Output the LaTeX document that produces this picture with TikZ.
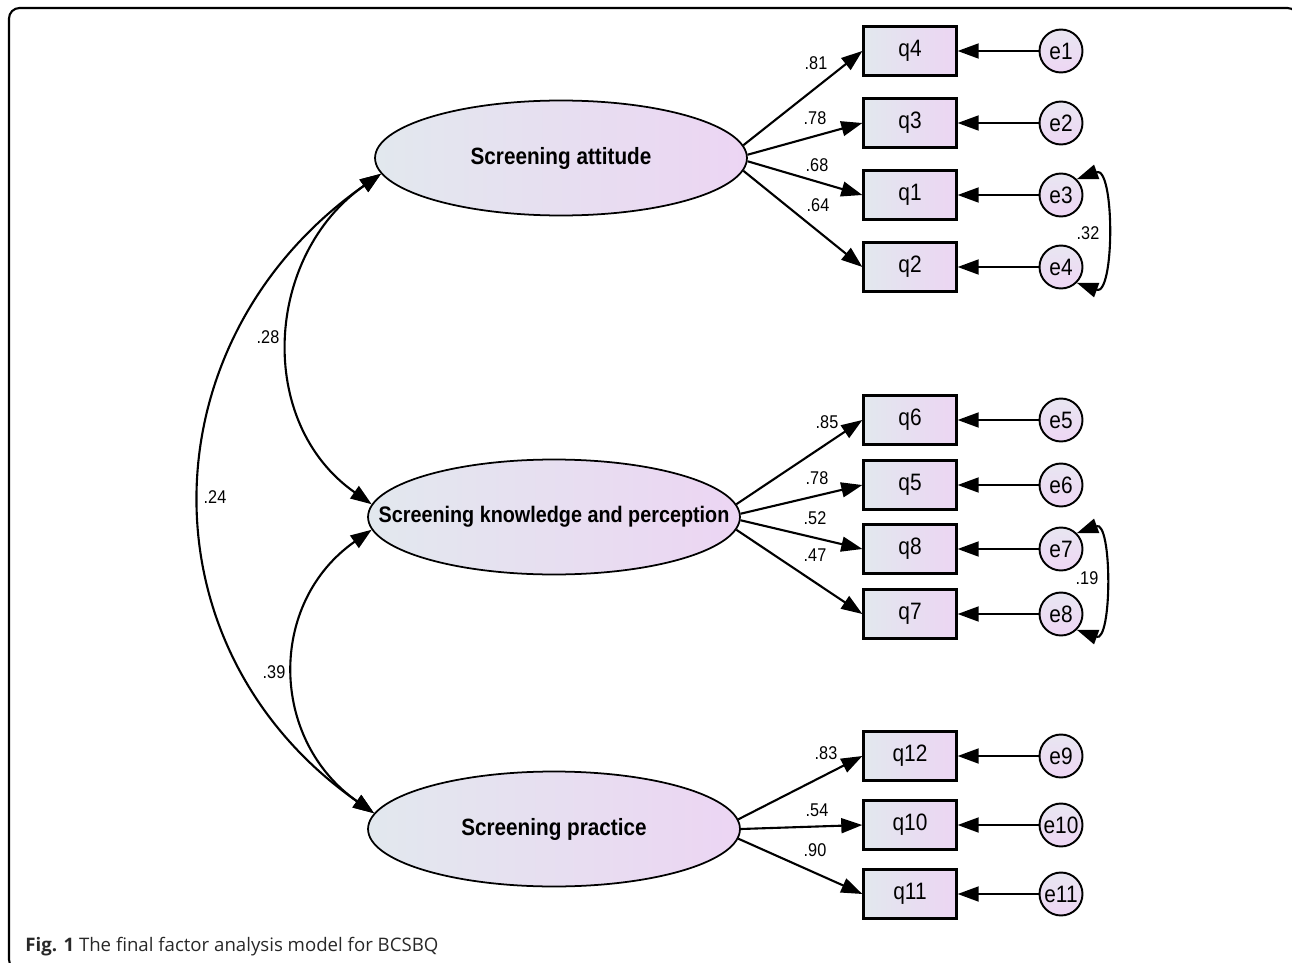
\documentclass[tikz,border=0pt]{standalone}
\usepackage{fontspec}
\setmainfont{Liberation Sans}
\newfontfamily\amosfont[FakeStretch=0.88]{Liberation Sans}
\newfontfamily\capfont{Open Sans}
\usepackage{xcolor}
\usetikzlibrary{positioning, arrows.meta, shapes.geometric}
\definecolor{shadeleft}{RGB}{226,232,238}
\definecolor{shaderight}{RGB}{236,213,243}
\definecolor{errtop}{RGB}{232,230,241}
\definecolor{errbottom}{RGB}{238,214,244}
\definecolor{captext}{RGB}{40,40,40}
\newcommand{\latent}[1]{\makebox[0pt]{#1}}

\begin{document}
\begin{tikzpicture}[x=0.02cm, y=0.02cm,
    >={Triangle[length=12pt,width=8.5pt]},
    factor/.style={ellipse, draw, line width=1pt, inner sep=0pt, minimum width=7.44cm, minimum height=2.3cm,
        left color=shadeleft, right color=shaderight, font=\amosfont\bfseries\fontsize{13.4}{15}\selectfont},
    item/.style={rectangle, draw, line width=1.3pt, minimum width=1.86cm, minimum height=0.98cm,
        left color=shadeleft, right color=shaderight, font=\amosfont\fontsize{13.5}{15}\selectfont},
    err/.style={circle, draw, line width=1.1pt, minimum size=0.86cm, inner sep=0pt,
        top color=errtop, bottom color=errbottom, font=\amosfont\fontsize{13.5}{15}\selectfont},
    load/.style={->, line width=1.2pt},
    cov/.style={<->, line width=1.2pt},
    coef/.style={inner sep=0pt, font=\amosfont\fontsize{10.5}{12}\selectfont}]
    \useasboundingbox (0,0) rectangle (1292,-963);
    \clip (0,0) rectangle (1292,-963);

    % Frame round the figure
    \draw[line width=1.2pt, rounded corners=6pt] (9,-8) rectangle (1298,-970);

    % Latent factors
    \node[factor] (att) at (561,-158) {\latent{Screening attitude}};
    \node[factor] (know) at (554,-517) {\latent{\fontsize{12.8}{15}\selectfont Screening knowledge and perception}};
    \node[factor] (prac) at (554,-829) {\latent{Screening practice}};

    % Items with their error terms
    \foreach \q/\e/\y in {q4/e1/51, q3/e2/123, q1/e3/195, q2/e4/267,
                          q6/e5/420, q5/e6/485, q8/e7/549, q7/e8/614,
                          q12/e9/756, q10/e10/825, q11/e11/894}{
        \node[item] (\q) at (910,-\y) {\q};
        \node[err] (\e) at (1061,-\y) {\e};
        \draw[load] (\e) -- (\q);
    }

    % Factor loadings
    \foreach \f/\ang/\q/\v/\lx/\ly in {att/4/q4/.81/816/63, att/1.5/q3/.78/815/118,
                                      att/-1.5/q1/.68/817/165, att/-4/q2/.64/818/205,
                                      know/4/q6/.85/827/422, know/1.5/q5/.78/817/478,
                                      know/-1.5/q8/.52/815/518, know/-4/q7/.47/815/555,
                                      prac/3/q12/.83/826/753, prac/0/q10/.54/817/810,
                                      prac/-3/q11/.90/815/850}{
        \draw[load] (\f.\ang) -- (\q.west);
        \node[coef] (w\q) at (\lx,-\ly) {\v};
    }

    % Correlated errors
    \draw[cov] (e3.45) to[out=20, in=-20] (e4.-45);
    \node[coef] (r34) at (1088,-233) {.32};
    \draw[cov] (e7.45) to[out=20, in=-20] (e8.-45);
    \node[coef] (r78) at (1087,-578) {.19};

    % Factor covariances
    \draw[cov] (att.185) to[out=215, in=145, looseness=1.1] (know.176);
    \node[coef] (rak) at (268,-337) {.28};
    \draw[cov] (att.185) to[out=215, in=145, looseness=1.15] (prac.175);
    \node[coef] (rap) at (215,-497) {.24};
    \draw[cov] (know.184) to[out=215, in=145, looseness=1.15] (prac.175);
    \node[coef] (rkp) at (274,-672) {.39};

    % Caption
    \node[anchor=base west, inner sep=0pt, text=captext, font=\capfont\fontsize{10.6}{12}\selectfont]
        (cap) at (25,-951) {\textbf{Fig. 1} The final factor analysis model for BCSBQ};
\end{tikzpicture}
\end{document}
